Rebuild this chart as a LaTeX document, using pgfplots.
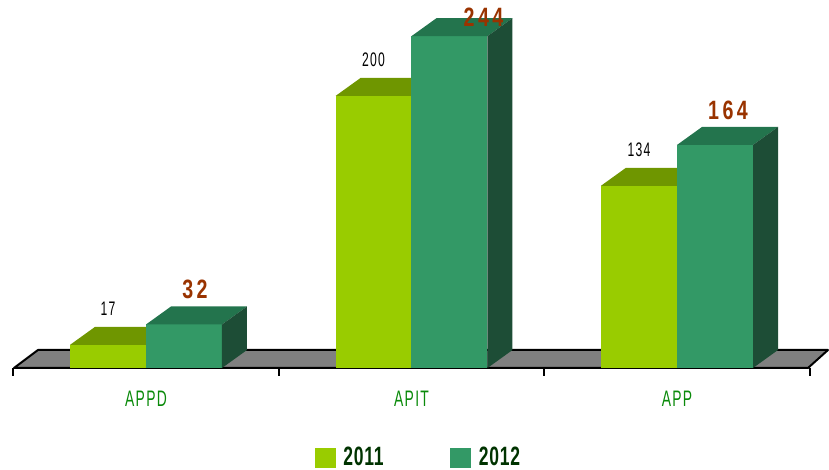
\documentclass[border=0pt]{standalone}
\usepackage{pgfplots}
\pgfplotsset{compat=1.18}
\usepackage{pgfplotstable}
\usepackage{fontspec}
\setmainfont{Liberation Sans}[FakeStretch=0.62, LetterSpace=6]
\newfontfamily\boldlbl{Liberation Sans}[FakeStretch=0.74, LetterSpace=13]
\newfontfamily\legfont{Liberation Sans}[FakeStretch=0.66, LetterSpace=3]
\definecolor{f11}{HTML}{99CC00}
\definecolor{t11}{HTML}{6F9600}
\definecolor{s11}{HTML}{4F6B00}
\definecolor{f12}{HTML}{339966}
\definecolor{t12}{HTML}{23744D}
\definecolor{s12}{HTML}{1D4D36}
\definecolor{lblred}{HTML}{993300}
\definecolor{tickgreen}{HTML}{0A8A0A}
\definecolor{legtext}{HTML}{003300}
\definecolor{floorgray}{HTML}{808080}

\pgfplotstableread{
x y lx ly
0 17 0 36
1 200 0 36
2 134 0 36
}\dataA
\pgfplotstableread{
x y lx ly
0 32 11 35
1 244 34 19
2 164 13 35
}\dataB

% 3D bar mark: origin = top-front-centre of the bar
\newcommand\defbarmark[4]{%
  \pgfdeclareplotmark{#1}{%
    \pgfmathsetmacro\h{\barval*1.02}%
    \pgfpathrectanglecorners{\pgfpoint{-28.5pt}{0pt}}{\pgfpoint{28.5pt}{-\h pt}}%
    \pgfsetfillcolor{#2}\pgfusepath{fill}%
    \pgfpathmoveto{\pgfpoint{-28.5pt}{0pt}}%
    \pgfpathlineto{\pgfpoint{28.5pt}{0pt}}%
    \pgfpathlineto{\pgfpoint{47.25pt}{13.5pt}}%
    \pgfpathlineto{\pgfpoint{-9.75pt}{13.5pt}}%
    \pgfpathclose
    \pgfsetfillcolor{#3}\pgfusepath{fill}%
    \pgfpathmoveto{\pgfpoint{28.5pt}{0pt}}%
    \pgfpathlineto{\pgfpoint{47.25pt}{13.5pt}}%
    \pgfpathlineto{\pgfpoint{47.25pt}{13.5pt-\h pt}}%
    \pgfpathlineto{\pgfpoint{28.5pt}{-\h pt}}%
    \pgfpathclose
    \pgfsetfillcolor{#4}\pgfusepath{fill}%
  }%
}
\defbarmark{bar11}{f11}{t11}{s11}
\defbarmark{bar12}{f12}{t12}{s12}

\pgfplotsset{
  bar3d/.style n args={2}{
    only marks, mark=#1,
    point meta=explicit symbolic,
    visualization depends on={rawy \as \barval},
    visualization depends on={\thisrow{lx} \as \lx},
    visualization depends on={\thisrow{ly} \as \ly},
    nodes near coords={\pgfplotspointmeta},
    every node near coord/.append style={anchor=center, inner sep=0pt,
      xshift=\lx*0.75pt, yshift=\ly*0.75pt},
    legend image code/.code={\fill[#2] (0pt,-7.2pt) rectangle (15pt,7.2pt);},
  }
}

\begin{document}
\begin{tikzpicture}
\begin{axis}[
  x=199.125pt, y=1.02pt,
  xmin=-0.5499, xmax=2.5725, ymin=0, ymax=270.6,
  scale only axis, clip=false,
  axis x line*=bottom, axis y line=none,
  x axis line style={draw=none},
  xtick={-0.5,0.5,1.5,2.5}, xticklabels={},
  major tick length=6pt, tick align=outside,
  tick style={black, line width=1.5pt},
  extra x ticks={0,1,2}, extra x tick labels={APPD,APIT,APP},
  extra x tick style={major tick length=0pt},
  xticklabel style={text=tickgreen, font=\fontsize{16.8}{18}\selectfont, anchor=center, yshift=-23.25pt},
  legend columns=2,
  legend style={draw=none, fill=none, at={(0.5036,-0.243)}, anchor=center,
    font=\legfont\bfseries\fontsize{19.9}{21}\selectfont, text=legtext,
    column sep=6pt, /tikz/every even column/.append style={column sep=50pt},
    inner sep=0pt, nodes={inner sep=0pt}},
]
\draw[fill=floorgray, line width=1.5pt, line join=round]
  (axis cs:-0.4972,0) -- (axis cs:2.4934,0) -- (axis cs:2.5687,13.235)
  -- (axis cs:-0.4068,13.235) -- cycle;
\addplot[bar3d={bar11}{f11},
  every node near coord/.append style={text=black, font=\fontsize{14.7}{16}\selectfont}]
  table[x expr=\thisrow{x}-0.1431, y=y, meta=y] {\dataA};
\addlegendentry{2011}
\addplot[bar3d={bar12}{f12},
  every node near coord/.append style={text=lblred, font=\boldlbl\bfseries\fontsize{19.9}{21}\selectfont}]
  table[x expr=\thisrow{x}+0.1431, y=y, meta=y] {\dataB};
\addlegendentry{2012}
\end{axis}
\pgfresetboundingbox
\path[use as bounding box] (0,-76.5pt) rectangle (621.75pt,276pt);
\end{tikzpicture}
\end{document}
